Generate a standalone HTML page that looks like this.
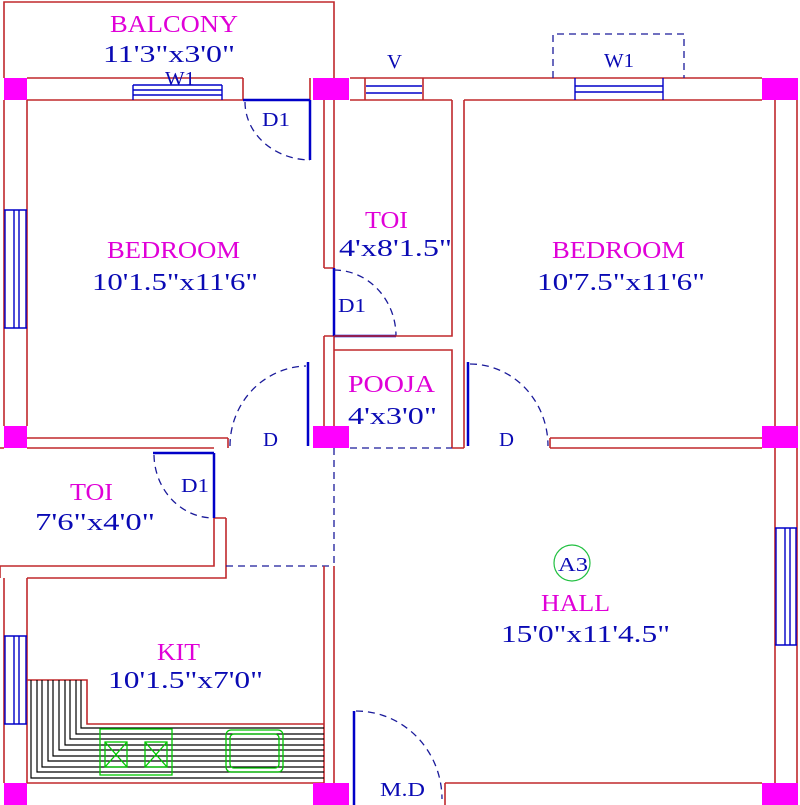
<!DOCTYPE html>
<html><head><meta charset="utf-8"><style>
html,body{margin:0;padding:0;background:#fff;}
svg{display:block;}
.w{stroke:#c0282c;stroke-width:1.6;fill:none;}
.b{stroke:#0000c8;stroke-width:1.4;fill:none;}
.bd{stroke:#0000c8;stroke-width:2.5;fill:none;}
.ds{stroke:#1a1a9a;stroke-width:1.3;fill:none;stroke-dasharray:7,5;}
.g{stroke:#00c800;stroke-width:1.3;fill:none;}
.k{stroke:#000;stroke-width:1.2;fill:none;}
.p{fill:#ff00ff;}
text{font-family:"Liberation Serif",serif;}
.tm{fill:#e000d8;font-size:24px;}
.tb{fill:#0a0ab4;font-size:24px;}
.ts{fill:#0a0ab4;font-size:20px;}
</style></head><body>
<svg width="800" height="805" viewBox="0 0 800 805" xmlns="http://www.w3.org/2000/svg">
<path class="w" d="M4 78 V2 H334 V78"/>
<path class="w" d="M27 78 H243 M27 100 H243 M243 78 V100"/>
<path class="w" d="M310 78 V100"/>
<path class="b" d="M133 85 H222 M133 90 H222 M133 95 H222 M133 85 V100 M222 85 V100"/>
<path class="bd" d="M243 100 H310"/>
<path class="w" d="M350 78 H762 M350 100 H452 M464 100 H762 M365 78 V100 M423 78 V100"/>
<path class="b" d="M366 86 H422 M366 93 H422"/>
<path class="b" d="M575 78 V100 M663 78 V100 M575 86 H663 M575 92 H663"/>
<path class="ds" d="M553 78 V34 H684 V78"/>
<path class="w" d="M4 100 V426 M27 100 V426"/>
<path class="b" d="M5 210 V328 M14 210 V328 M19 210 V328 M26 210 V328 M4 210 H27 M4 328 H27"/>
<path class="w" d="M324 100 V268 M334 100 V268 M324 268 H334 M324 336 V426 M334 336 V426 M324 336 H334"/>
<path class="bd" d="M334 268 V336 M334 336 H396"/>
<path class="ds" d="M334 270 A62 66 0 0 1 396 336"/>
<path class="w" d="M452 100 V336 H334 M334 350 H452 V448 M464 100 V448 M452 448 H464"/>
<path class="ds" d="M350 448 H452"/>
<path class="bd" d="M310 100 V160"/>
<path class="ds" d="M245 102 A66 58 0 0 0 310 160"/>
<path class="w" d="M27 438 H228 M27 448 H214 M228 438 V448"/>
<path class="bd" d="M308 362 V446"/>
<path class="ds" d="M230 446 A78 80 0 0 1 306 366"/>
<path class="w" d="M775 100 V426 M797 100 V426 M550 438 H762 M550 448 H762 M550 438 V448"/>
<path class="bd" d="M468 362 V446"/>
<path class="ds" d="M470 364 A78 82 0 0 1 548 446"/>
<path class="w" d="M0 448 H4 M214 453 V566 H0 M226 518 V578 H27 M214 518 H226"/>
<path class="bd" d="M153 453 H214 M214 453 V518"/>
<path class="ds" d="M154 455 A60 64 0 0 0 212 518"/>
<path class="ds" d="M334 448 V566 M226 566 H334"/>
<path class="w" d="M4 578 V783 M27 578 V783 M0 566 V578 M324 566 V783 M334 566 V783 M27 783 H324"/>
<path class="b" d="M5 636 V724 M14 636 V724 M19 636 V724 M26 636 V724 M4 636 H27 M4 724 H27"/>
<path class="w" d="M27 680 H87 V724 H324"/>
<g class="k">
<path d="M31 680 V778 H324"/><path d="M37 680 V772 H324"/><path d="M42 680 V767 H324"/>
<path d="M48 680 V761 H324"/><path d="M53 680 V756 H324"/><path d="M59 680 V750 H324"/>
<path d="M65 680 V745 H324"/><path d="M70 680 V739 H324"/><path d="M76 680 V734 H324"/>
<path d="M81 680 V728 H324"/>
</g>
<rect x="100" y="729" width="72" height="46" fill="#fff" class="g"/>
<rect x="105" y="742" width="22" height="25" class="g" stroke-width="2"/>
<rect x="145" y="742" width="22" height="25" class="g" stroke-width="2"/>
<path class="g" d="M105 742 L127 767 M127 742 L105 767 M145 742 L167 767 M167 742 L145 767"/>
<rect x="226" y="730" width="57" height="42" rx="5" fill="#fff" class="g"/>
<rect x="230" y="734" width="49" height="34" rx="4" class="g"/>
<path class="w" d="M775 448 V783 M797 448 V783 M445 783 H762 M445 783 V805"/>
<path class="b" d="M776 528 V645 M785 528 V645 M790 528 V645 M796 528 V645 M775 528 H797 M775 645 H797"/>
<path class="bd" d="M354 711 V805"/>
<path class="ds" d="M356 711 A86 88 0 0 1 442 799"/>
<circle cx="572" cy="563" r="18" fill="none" stroke="#20c040" stroke-width="1.2"/>
<rect class="p" x="4" y="78" width="23" height="22"/>
<rect class="p" x="313" y="78" width="36" height="22"/>
<rect class="p" x="762" y="78" width="36" height="22"/>
<rect class="p" x="4" y="426" width="23" height="22"/>
<rect class="p" x="313" y="426" width="36" height="22"/>
<rect class="p" x="762" y="426" width="36" height="22"/>
<rect class="p" x="4" y="783" width="23" height="22"/>
<rect class="p" x="313" y="783" width="36" height="22"/>
<rect class="p" x="762" y="783" width="36" height="22"/>
<g lengthAdjust="spacingAndGlyphs">
<text class="tm" x="110" y="32" textLength="128" lengthAdjust="spacingAndGlyphs">BALCONY</text>
<text class="tb" x="103" y="62" textLength="132" lengthAdjust="spacingAndGlyphs">11'3"x3'0"</text>
<text class="ts" x="165" y="85" textLength="30" lengthAdjust="spacingAndGlyphs">W1</text>
<text class="ts" x="387" y="68" textLength="15" lengthAdjust="spacingAndGlyphs">V</text>
<text class="ts" x="604" y="67" textLength="30" lengthAdjust="spacingAndGlyphs">W1</text>
<text class="ts" x="262" y="126" textLength="28" lengthAdjust="spacingAndGlyphs">D1</text>
<text class="tm" x="107" y="258" textLength="133" lengthAdjust="spacingAndGlyphs">BEDROOM</text>
<text class="tb" x="92" y="290" textLength="166" lengthAdjust="spacingAndGlyphs">10'1.5"x11'6"</text>
<text class="tm" x="365" y="228" textLength="43" lengthAdjust="spacingAndGlyphs">TOI</text>
<text class="tb" x="339" y="256" textLength="113" lengthAdjust="spacingAndGlyphs">4'x8'1.5"</text>
<text class="ts" x="338" y="312" textLength="28" lengthAdjust="spacingAndGlyphs">D1</text>
<text class="tm" x="552" y="258" textLength="133" lengthAdjust="spacingAndGlyphs">BEDROOM</text>
<text class="tb" x="537" y="290" textLength="168" lengthAdjust="spacingAndGlyphs">10'7.5"x11'6"</text>
<text class="tm" x="348" y="392" textLength="87" lengthAdjust="spacingAndGlyphs">POOJA</text>
<text class="tb" x="348" y="424" textLength="89" lengthAdjust="spacingAndGlyphs">4'x3'0"</text>
<text class="ts" x="263" y="446" textLength="15" lengthAdjust="spacingAndGlyphs">D</text>
<text class="ts" x="499" y="446" textLength="15" lengthAdjust="spacingAndGlyphs">D</text>
<text class="ts" x="181" y="492" textLength="28" lengthAdjust="spacingAndGlyphs">D1</text>
<text class="tm" x="70" y="500" textLength="43" lengthAdjust="spacingAndGlyphs">TOI</text>
<text class="tb" x="35" y="530" textLength="120" lengthAdjust="spacingAndGlyphs">7'6"x4'0"</text>
<text class="tm" x="157" y="660" textLength="43" lengthAdjust="spacingAndGlyphs">KIT</text>
<text class="tb" x="108" y="688" textLength="155" lengthAdjust="spacingAndGlyphs">10'1.5"x7'0"</text>
<text class="ts" x="558" y="571" textLength="30" lengthAdjust="spacingAndGlyphs">A3</text>
<text class="tm" x="541" y="611" textLength="69" lengthAdjust="spacingAndGlyphs">HALL</text>
<text class="tb" x="501" y="642" textLength="169" lengthAdjust="spacingAndGlyphs">15'0"x11'4.5"</text>
<text class="ts" x="380" y="796" textLength="45" lengthAdjust="spacingAndGlyphs">M.D</text>
</g>
</svg>
</body></html>
